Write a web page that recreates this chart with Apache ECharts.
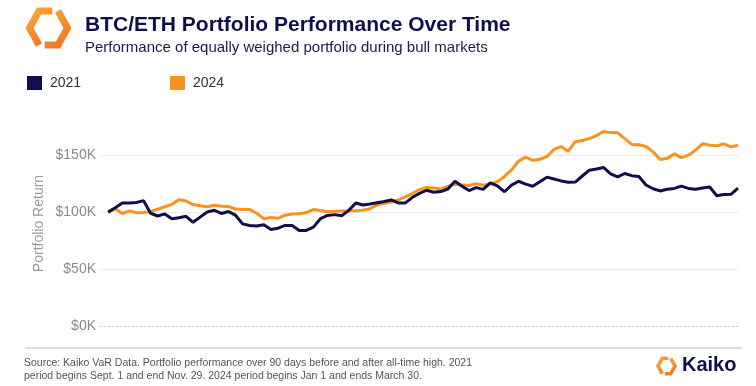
<!DOCTYPE html>
<html>
<head>
<meta charset="utf-8">
<script src="https://cdn.jsdelivr.net/npm/echarts@6/dist/echarts.min.js"></script>
<style>
html,body{margin:0;padding:0;background:#fff;}
#chart{width:756px;height:386px;}
</style>
</head>
<body>
<div id="chart"></div>
<script>
// ---- data ----
const days = Array.from({length: 90}, (_, i) => i + 1); // day index of each observation
const series2021 = [100,103.9,108.1,107.9,108.5,110.1,99.0,96.6,98.4,94.2,95,96.3,91.1,95.6,100.1,101.6,98.8,100.5,97.3,89.7,88.3,87.8,88.9,84.7,85.9,88.3,88.3,83.8,83.9,86.8,94.2,97.1,97.8,96.8,101.5,108,106.3,107.2,108.3,109.3,110.7,108.1,108.1,113,116.4,119.2,117.4,118,120.3,127.2,122.7,118.9,121.5,120,125.7,123,117.9,123.7,127.1,124.6,122.7,126.7,130.7,129.1,127.4,126.3,126.4,131.7,136.8,137.9,139.2,133.6,130.9,133.9,132,131.2,123.8,120.5,118.6,120,120.8,122.8,120.8,120,121.1,122,114.4,115.4,115.6,121.1];
const series2024 = [100,102.9,98.7,101.1,99.5,99.7,100.6,102.5,104.7,106.8,110.8,109.8,106.6,105.5,104.7,106.1,105.2,104.9,102.7,102.4,102.3,99,94.2,95.2,94.6,97.3,98.3,98.6,99.6,102.2,101.4,100.4,100.7,101,101.1,101.3,101.7,102.9,106.3,107.8,108.9,110.8,113.3,116.3,119.8,121.7,121.1,120.4,122.6,124.4,123.7,123.4,125,123.6,124.6,126.7,131.3,137,144.8,148.3,145.5,146.4,148.7,155,157.5,153.4,161.8,162.8,164.6,167.2,170.8,169.8,169.6,164.5,159.4,159.2,157.6,152.9,146.2,147.2,151.1,147.9,150,154.4,160,158.8,158.2,160,157.3,158.7];
const yTicks = [0, 50000, 100000, 150000];
const seriesNames = ['2021', '2024'];

const NAVY = '#0f0f4b';
const ORANGE = '#f7931e';
const FONT = "'Liberation Sans', Arial, sans-serif";

function toPairs(vals){ return vals.map((v, i) => [days[i], v * 1000]); }

function logo(cx, cy, sx, sy, w){
  const p = (x, y) => [cx + x * sx, cy + y * sy];
  const grad = new echarts.graphic.LinearGradient(0, 0, 1, 1, [
    {offset: 0, color: '#fbae3c'}, {offset: 1, color: '#f26b21'}]);
  return [
    {type: 'polyline', shape: {points: [p(0.2,-0.85), p(-0.5,-0.85), p(-1,0), p(-0.5,0.85)]},
     style: {stroke: grad, lineWidth: w, fill: null, lineJoin: 'miter'}},
    {type: 'polyline', shape: {points: [p(-0.2,0.85), p(0.5,0.85), p(1,0), p(0.5,-0.85)]},
     style: {stroke: grad, lineWidth: w, fill: null, lineJoin: 'miter'}}
  ];
}

const chart = echarts.init(document.getElementById('chart'), null, {renderer: 'canvas'});
chart.setOption({
  animation: false,
  backgroundColor: '#fff',
  textStyle: {fontFamily: FONT},
  title: [
    {text: 'BTC/ETH Portfolio Performance Over Time', left: 85, top: 15, padding: 0,
     textStyle: {fontFamily: FONT, fontSize: 21, fontWeight: 'bold', color: NAVY}},
    {text: 'Performance of equally weighed portfolio during bull markets', left: 85, top: 40, padding: 0,
     textStyle: {fontFamily: FONT, fontSize: 15, fontWeight: 'normal', color: '#1a1a50'}}
  ],
  legend: [
    {data: [seriesNames[0]], left: 27, top: 76, padding: 0, icon: 'rect', itemWidth: 15, itemHeight: 14,
     textStyle: {fontFamily: FONT, fontSize: 14, color: '#333', padding: [0,0,0,3]}},
    {data: [seriesNames[1]], left: 170, top: 76, padding: 0, icon: 'rect', itemWidth: 15, itemHeight: 14,
     textStyle: {fontFamily: FONT, fontSize: 14, color: '#333', padding: [0,0,0,3]}}
  ],
  grid: {left: 100, right: 18, top: 121, bottom: 60, containLabel: false},
  xAxis: {
    type: 'value', min: -0.15, max: 90,
    axisLabel: {show: false}, axisTick: {show: false}, splitLine: {show: false},
    axisLine: {show: true, onZero: true, lineStyle: {color: '#cfcfcf', type: [2, 2], width: 1}}
  },
  yAxis: {
    type: 'value', min: 0, max: 180000, interval: 50000,
    name: 'Portfolio Return', nameLocation: 'middle', nameGap: 54, nameMoveOverlap: false,
    nameTextStyle: {fontFamily: FONT, fontSize: 14, color: '#9a9a9a'},
    axisLine: {show: false}, axisTick: {show: false},
    axisLabel: {fontFamily: FONT, fontSize: 14, color: '#8a8a8a', margin: 4, showMaxLabel: false,
      formatter: v => yTicks.indexOf(v) >= 0 ? '$' + (v / 1000) + 'K' : ''},
    splitLine: {show: true, showMinLine: false, showMaxLine: false, lineStyle: {color: '#ebebeb', width: 1}}
  },
  series: [
    {name: seriesNames[1], type: 'line', data: toPairs(series2024), symbol: 'none',
     lineStyle: {width: 3, color: ORANGE}, itemStyle: {color: ORANGE}, z: 2},
    {name: seriesNames[0], type: 'line', data: toPairs(series2021), symbol: 'none',
     lineStyle: {width: 3, color: NAVY}, itemStyle: {color: NAVY}, z: 3}
  ],
  graphic: [
    ...logo(48.5, 28, 19, 20, 7),
    {type: 'line', shape: {x1: 25, y1: 348, x2: 742, y2: 348}, style: {stroke: '#dedede', lineWidth: 2}},
    {type: 'text', left: 24, top: 357, style: {
      text: 'Source: Kaiko VaR Data. Portfolio performance over 90 days before and after all-time high. 2021\nperiod begins Sept. 1 and end Nov. 29. 2024 period begins Jan 1 and ends March 30.',
      fontFamily: FONT, fontSize: 10.5, lineHeight: 13, fill: '#555'}},
    ...logo(666.5, 366, 8.5, 9, 3.5),
    {type: 'text', left: 682, top: 355, style: {text: 'Kaiko', fontFamily: FONT, fontSize: 20, fontWeight: 'bold', fill: NAVY}}
  ]
});
</script>
</body>
</html>
